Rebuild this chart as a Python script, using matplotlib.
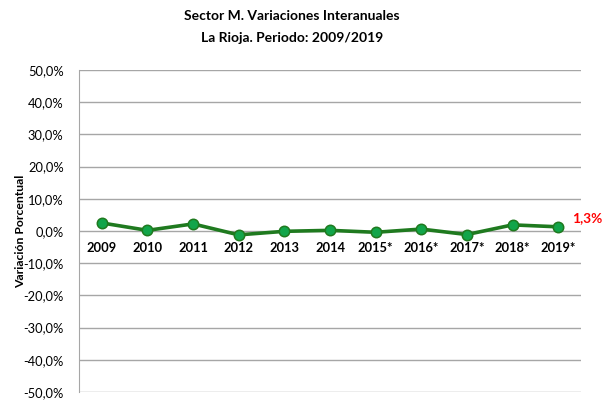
import matplotlib
matplotlib.use("Agg")
import matplotlib.pyplot as plt
from matplotlib.ticker import FuncFormatter

# ==== Data ====
years = ["2009", "2010", "2011", "2012", "2013", "2014",
         "2015*", "2016*", "2017*", "2018*", "2019*"]
variacion = [2.5, 0.2, 2.2, -1.2, -0.1, 0.2, -0.4, 0.6, -1.1, 1.9, 1.3]
last_label = "1,3%"
y_ticks = [-50, -40, -30, -20, -10, 0, 10, 20, 30, 40, 50]

plt.rcParams['font.family'] = ['Lato', 'DejaVu Sans']

fig = plt.figure(figsize=(6.05, 4.01), dpi=100)
ax = fig.add_axes([79 / 605, 1 - 392 / 401, 502 / 605, 322 / 401])

x = list(range(len(years)))
ax.plot(x, variacion, color='#1f7a1f', lw=2.6, marker='o', markersize=7.5,
        markerfacecolor='#12a54a', markeredgecolor='#1f7a1f', markeredgewidth=1.1,
        zorder=3, clip_on=False)

ax.set_xlim(-0.5, len(years) - 0.5)
ax.set_ylim(-50, 50)
ax.set_yticks(y_ticks)
ax.yaxis.set_major_formatter(FuncFormatter(lambda v, p: f"{v:.1f}%".replace('.', ',')))
ax.tick_params(axis='y', length=0, labelsize=9.3, pad=11, colors='black')
ax.grid(axis='y', color='#a6a6a6', lw=1)
ax.set_axisbelow(True)
ax.set_xticks([])

for s in ['top', 'right', 'bottom']:
    ax.spines[s].set_visible(False)
ax.spines['left'].set_color('#a6a6a6')

# year labels next to the zero line
for i, yr in enumerate(years):
    ax.text(i, -3.3, yr, ha='center', va='top', fontsize=9.3, fontweight='bold')

ax.text(len(years) - 1 + 0.3, variacion[-1] + 2.6, last_label, color='#ff0000',
        fontsize=9.8, fontweight='bold', ha='left', va='center')

ax.set_ylabel("Variación Porcentual", fontsize=8.8, fontweight='bold', labelpad=-2)

fig.text(292 / 605, 1 - 16 / 401, "Sector M. Variaciones Interanuales",
         ha='center', va='center', fontsize=10, fontweight='bold')
fig.text(292 / 605, 1 - 38 / 401, "La Rioja. Periodo: 2009/2019",
         ha='center', va='center', fontsize=10, fontweight='bold')

fig.savefig("out.png", dpi=100)
